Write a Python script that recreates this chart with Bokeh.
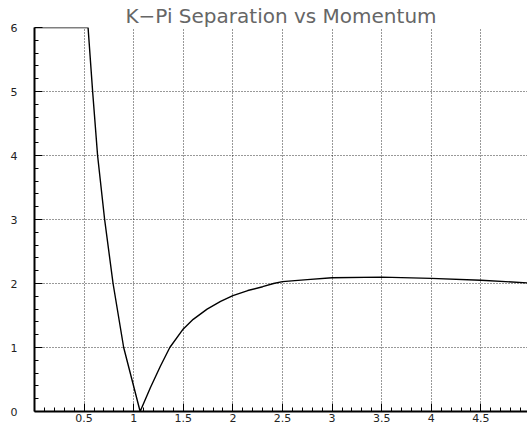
from bokeh.plotting import figure
from bokeh.models import FixedTicker, Range1d
from bokeh.embed import file_html
from bokeh.resources import INLINE

# K-pi separation (in sigma, capped at 6) as a function of momentum (GeV/c)
momentum = [0.0, 0.54, 0.586, 0.636, 0.707, 0.792, 0.899, 1.065, 1.169, 1.27,
            1.364, 1.50, 1.60, 1.74, 1.876, 2.00, 2.15, 2.30, 2.41, 2.50,
            2.75, 3.00, 3.50, 4.00, 4.50, 4.97]
separation = [6.0, 6.0, 5.0, 4.0, 3.0, 2.0, 1.0, 0.0, 0.375, 0.71,
              1.0, 1.29, 1.44, 1.60, 1.72, 1.81, 1.89, 1.95, 2.00, 2.03,
              2.06, 2.09, 2.10, 2.08, 2.05, 2.01]

x_ticks = [0.5, 1.0, 1.5, 2.0, 2.5, 3.0, 3.5, 4.0, 4.5]
x_tick_labels = ["0.5", "1", "1.5", "2", "2.5", "3", "3.5", "4", "4.5"]
y_ticks = [0, 1, 2, 3, 4, 5, 6]
y_tick_labels = ["0", "1", "2", "3", "4", "5", "6"]

title_text = "K\u2212Pi Separation vs Momentum"

p = figure(width=527, height=425, output_backend="svg", toolbar_location=None,
           x_range=Range1d(0, 4.97), y_range=Range1d(0, 6),
           min_border_left=34, min_border_right=0,
           min_border_top=27, min_border_bottom=14)
p.outline_line_color = None
p.background_fill_color = "white"
p.border_fill_color = "white"

# title sitting right on the top edge of the frame
p.title.text = title_text
p.title.align = "center"
p.title.text_font = "DejaVu Sans"
p.title.text_font_size = "20px"
p.title.text_font_style = "normal"
p.title.text_color = "#666666"
p.title.standoff = 0
p.title.vertical_align = "bottom"

# axes with inward ticks
x_minor = [round(0.1 * i, 1) for i in range(1, 50)]
y_minor = [round(0.2 * i, 1) for i in range(1, 30)]
p.xaxis.ticker = FixedTicker(ticks=x_ticks, minor_ticks=x_minor)
p.yaxis.ticker = FixedTicker(ticks=y_ticks, minor_ticks=y_minor)
p.xaxis.major_label_overrides = dict(zip(x_ticks, x_tick_labels))
p.yaxis.major_label_overrides = dict(zip(y_ticks, y_tick_labels))

for ax in (p.xaxis, p.yaxis):
    ax.axis_line_width = 2
    ax.axis_line_color = "black"
    ax.major_tick_in = 8
    ax.major_tick_out = 0
    ax.minor_tick_in = 4
    ax.minor_tick_out = 0
    ax.major_tick_line_color = "black"
    ax.minor_tick_line_color = "black"
    ax.major_label_text_font = "DejaVu Sans"
    ax.major_label_text_font_size = "11px"
    ax.major_label_text_color = "#222222"
p.xaxis.major_label_standoff = 2
p.yaxis.major_label_standoff = 17

# dotted grid
for g in (p.xgrid, p.ygrid):
    g.grid_line_color = "black"
    g.grid_line_dash = "1 2"
    g.grid_line_width = 1
    g.grid_line_alpha = 0.8

p.line(momentum, separation, line_color="black", line_width=1.4)

open("out.html", "w").write(file_html(p, INLINE))
